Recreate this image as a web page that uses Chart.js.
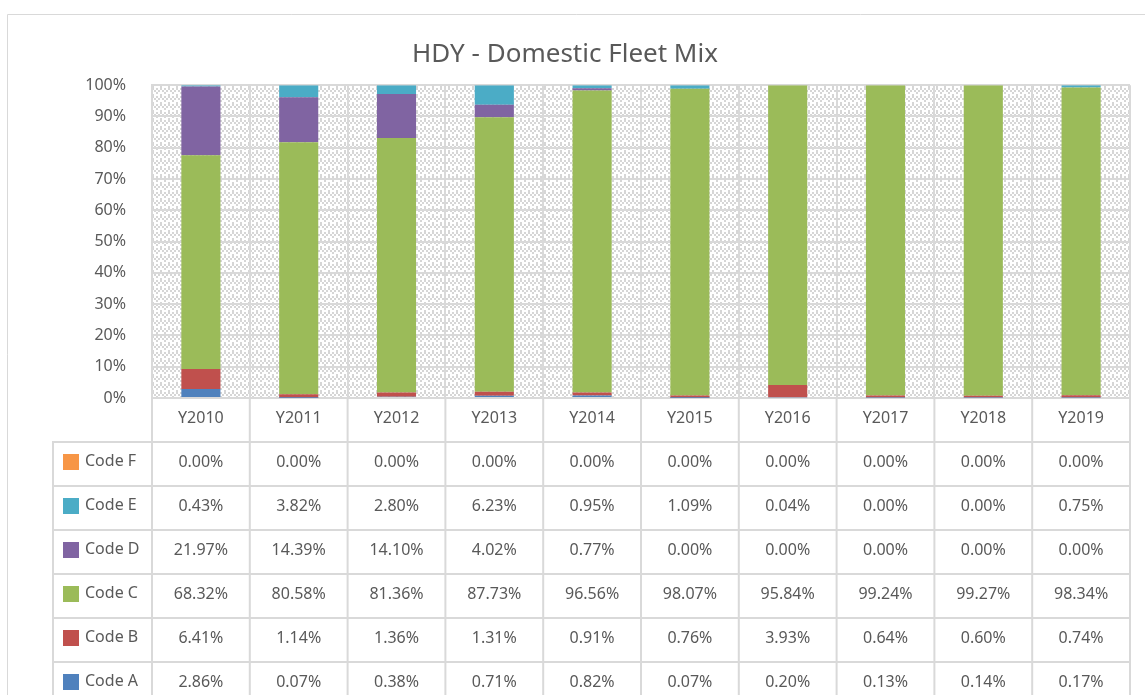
<!DOCTYPE html>
<html>
<head>
<meta charset="utf-8">
<title>HDY - Domestic Fleet Mix</title>
<script src="https://cdn.jsdelivr.net/npm/chart.js@4/dist/chart.umd.min.js"></script>
<style>
  html, body { margin: 0; padding: 0; background: #fff; }
  canvas { display: block; }
</style>
</head>
<body>
<canvas id="fleetChart" width="1145" height="695"></canvas>
<script>
const years = ["Y2010", "Y2011", "Y2012", "Y2013", "Y2014", "Y2015", "Y2016", "Y2017", "Y2018", "Y2019"];

// share of movements per aircraft code, in percent
const codeA = [2.86, 0.07, 0.38, 0.71, 0.82, 0.07, 0.20, 0.13, 0.14, 0.17];
const codeB = [6.41, 1.14, 1.36, 1.31, 0.91, 0.76, 3.93, 0.64, 0.60, 0.74];
const codeC = [68.32, 80.58, 81.36, 87.73, 96.56, 98.07, 95.84, 99.24, 99.27, 98.34];
const codeD = [21.97, 14.39, 14.10, 4.02, 0.77, 0.00, 0.00, 0.00, 0.00, 0.00];
const codeE = [0.43, 3.82, 2.80, 6.23, 0.95, 1.09, 0.04, 0.00, 0.00, 0.75];
const codeF = [0.00, 0.00, 0.00, 0.00, 0.00, 0.00, 0.00, 0.00, 0.00, 0.00];

const yTicks = [0, 10, 20, 30, 40, 50, 60, 70, 80, 90, 100];

const series = [
  { label: "Code A", data: codeA, color: "#4F81BD" },
  { label: "Code B", data: codeB, color: "#C0504D" },
  { label: "Code C", data: codeC, color: "#9BBB59" },
  { label: "Code D", data: codeD, color: "#8064A2" },
  { label: "Code E", data: codeE, color: "#4BACC6" },
  { label: "Code F", data: codeF, color: "#F79646" }
];

const FONT = "'Noto Sans', 'DejaVu Sans', sans-serif";
const TEXT = "#595959";
const LINE = "#d9d9d9";

// light "dashed downward diagonal" fill like the Excel plot area
function makeHatch(ctx) {
  const c = document.createElement("canvas");
  c.width = 8; c.height = 8;
  const p = c.getContext("2d");
  p.fillStyle = "#fff";
  p.fillRect(0, 0, 8, 8);
  p.fillStyle = "#d6d6d6";
  [[0, 0], [2, 2], [4, 4], [4, 0], [6, 2], [0, 6]].forEach(([x, y]) => p.fillRect(x, y, 2, 2));
  return ctx.createPattern(c, "repeat");
}

const tablePlugin = {
  id: "dataTable",
  beforeDraw(chart) {
    const { ctx, chartArea: a } = chart;
    ctx.save();
    // outer frame of the chart object
    ctx.strokeStyle = LINE;
    ctx.lineWidth = 1;
    ctx.beginPath();
    ctx.moveTo(7.5, chart.height);
    ctx.lineTo(7.5, 14.5);
    ctx.lineTo(chart.width, 14.5);
    ctx.stroke();
    // hatched plot background
    ctx.fillStyle = makeHatch(ctx);
    ctx.fillRect(a.left, a.top, a.width, a.height);
    ctx.restore();
  },
  afterDraw(chart) {
    const { ctx, chartArea: a } = chart;
    const colW = a.width / years.length;
    const headBottom = a.bottom + 44;
    const rowH = 44;
    const keyLeft = 53;
    const rows = series.slice().reverse();

    ctx.save();
    ctx.strokeStyle = LINE;
    ctx.lineWidth = 2;
    ctx.beginPath();
    for (let i = 0; i <= years.length; i++) {
      const x = a.left + i * colW;
      ctx.moveTo(x, a.bottom);
      ctx.lineTo(x, chart.height);
    }
    ctx.moveTo(keyLeft, headBottom);
    ctx.lineTo(keyLeft, chart.height);
    for (let r = 0; r <= rows.length; r++) {
      const y = headBottom + r * rowH;
      ctx.moveTo(keyLeft - 1, y);
      ctx.lineTo(a.right + 1, y);
    }
    ctx.stroke();

    ctx.fillStyle = TEXT;
    ctx.font = "16px " + FONT;
    ctx.textAlign = "center";
    ctx.textBaseline = "middle";
    const xs = chart.scales.x;
    years.forEach((yr, i) => {
      ctx.fillText(yr, xs.getPixelForValue(i), a.bottom + 20);
    });

    rows.forEach((s, r) => {
      const cy = headBottom + r * rowH + 20;
      ctx.fillStyle = s.color;
      ctx.fillRect(63, cy - 8, 16, 16);
      ctx.fillStyle = TEXT;
      ctx.textAlign = "left";
      ctx.fillText(s.label, 85, cy - 1);
      ctx.textAlign = "center";
      s.data.forEach((v, i) => {
        ctx.fillText(v.toFixed(2) + "%", xs.getPixelForValue(i), cy);
      });
    });
    ctx.restore();
  }
};

new Chart(document.getElementById("fleetChart"), {
  type: "bar",
  data: {
    labels: years,
    datasets: series.map(s => ({
      label: s.label,
      data: s.data,
      backgroundColor: s.color,
      borderWidth: 0,
      barPercentage: 0.4,
      categoryPercentage: 1.0
    }))
  },
  options: {
    responsive: false,
    animation: false,
    layout: { padding: { top: 14, right: 15, left: 0, bottom: 0 } },
    plugins: {
      legend: { display: false },
      tooltip: { enabled: false },
      title: {
        display: true,
        text: "HDY - Domestic Fleet Mix",
        color: TEXT,
        font: { family: FONT, size: 26, weight: "normal" },
        padding: { top: 25, bottom: 15 }
      }
    },
    scales: {
      x: {
        stacked: true,
        grid: { color: LINE, lineWidth: 2, drawTicks: false, offset: true },
        border: { color: LINE, width: 2 },
        ticks: { display: false },
        afterFit(scale) { scale.height = 297; }
      },
      y: {
        stacked: true,
        min: 0,
        max: 100,
        afterBuildTicks(scale) { scale.ticks = yTicks.map(v => ({ value: v })); },
        grid: { color: LINE, lineWidth: 2, drawTicks: false },
        border: { color: LINE, width: 2 },
        ticks: {
          color: TEXT,
          font: { family: FONT, size: 16 },
          padding: 26,
          callback: v => v + "%"
        },
        afterFit(scale) { scale.width = 152; }
      }
    }
  },
  plugins: [tablePlugin]
});
</script>
</body>
</html>
